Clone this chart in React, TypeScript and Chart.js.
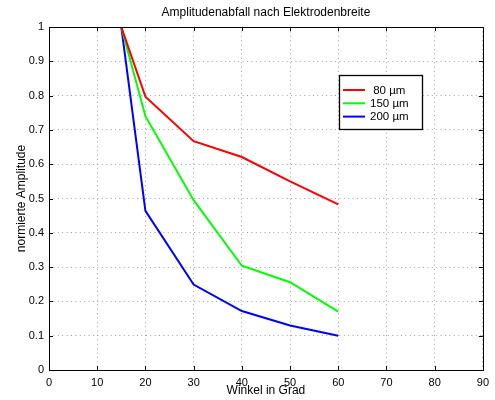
import React, { useEffect, useRef } from 'react';
import { Chart, registerables } from 'chart.js';

Chart.register(...registerables);

const chartTitle = 'Amplitudenabfall nach Elektrodenbreite';
const xAxisTitle = 'Winkel in Grad';
const yAxisTitle = 'normierte Amplitude';

const angles = [15, 20, 30, 40, 50, 60];
const amp80 = [1, 0.797, 0.667, 0.621, 0.55, 0.483];
const amp150 = [1, 0.74, 0.495, 0.304, 0.256, 0.17];
const amp200 = [1, 0.464, 0.249, 0.172, 0.13, 0.1];

const seriesNames = [' 80 µm', '150 µm', '200 µm'];
const seriesColors = ['#ff0000', '#00ff00', '#0000ff'];

const xTickValues = [0, 10, 20, 30, 40, 50, 60, 70, 80, 90];
const yTickLabels = ['0', '0.1', '0.2', '0.3', '0.4', '0.5', '0.6', '0.7', '0.8', '0.9', '1'];

const FAMILY = '"Liberation Sans", Arial, Helvetica, sans-serif';
const TITLE_FONT = '12px ' + FAMILY;
const LEGEND_FONT = '11.5px ' + FAMILY;

const matlabPlugin = {
  id: 'matlabDecor',
  afterDraw(chart: any) {
    const ctx = chart.ctx;
    const a = chart.chartArea;
    const xs = chart.scales.x;
    const ys = chart.scales.y;
    ctx.save();
    // axes box
    ctx.strokeStyle = '#000';
    ctx.lineWidth = 1;
    ctx.setLineDash([]);
    ctx.strokeRect(Math.round(a.left) + 0.5, Math.round(a.top) + 0.5, Math.round(a.right - a.left), Math.round(a.bottom - a.top));
    // inward ticks
    const tl = 4;
    ctx.beginPath();
    xs.ticks.forEach((t: any) => {
      const px = Math.round(xs.getPixelForValue(t.value)) + 0.5;
      ctx.moveTo(px, a.bottom);
      ctx.lineTo(px, a.bottom - tl);
      ctx.moveTo(px, a.top);
      ctx.lineTo(px, a.top + tl);
    });
    ys.ticks.forEach((t: any) => {
      const py = Math.round(ys.getPixelForValue(t.value)) + 0.5;
      ctx.moveTo(a.left, py);
      ctx.lineTo(a.left + tl, py);
      ctx.moveTo(a.right, py);
      ctx.lineTo(a.right - tl, py);
    });
    ctx.stroke();

    // titles
    ctx.fillStyle = '#000';
    ctx.font = TITLE_FONT;
    ctx.textAlign = 'center';
    ctx.textBaseline = 'middle';
    const cx = (a.left + a.right) / 2;
    ctx.fillText(chartTitle, cx, 13);
    ctx.fillText(xAxisTitle, cx, 391);
    ctx.save();
    ctx.translate(22, (a.top + a.bottom) / 2);
    ctx.rotate(-Math.PI / 2);
    ctx.fillText(yAxisTitle, 0, 0);
    ctx.restore();

    // legend
    const lx = 339.5, ly = 75.5, lw = 83, lh = 54;
    ctx.fillStyle = '#fff';
    ctx.fillRect(lx, ly, lw, lh);
    ctx.strokeStyle = '#000';
    ctx.lineWidth = 1.3;
    ctx.strokeRect(lx, ly, lw, lh);
    ctx.textAlign = 'left';
    ctx.font = LEGEND_FONT;
    chart.data.datasets.forEach((ds: any, i: number) => {
      const y = ly + 14.5 + i * 13.3;
      ctx.strokeStyle = ds.borderColor;
      ctx.lineWidth = 2;
      ctx.beginPath();
      ctx.moveTo(343, y);
      ctx.lineTo(365, y);
      ctx.stroke();
      ctx.fillStyle = '#000';
      ctx.fillText(ds.label, 370, y + 0.5);
    });
    ctx.restore();
  },
};

export default function App() {
  const ref = useRef<HTMLCanvasElement | null>(null);
  useEffect(() => {
    if (!ref.current) return;
    const series = [amp80, amp150, amp200];
    const chart = new Chart(ref.current, {
      type: 'line',
      data: {
        datasets: series.map((vals, i) => ({
          label: seriesNames[i],
          data: angles.map((x, j) => ({ x, y: vals[j] })),
          borderColor: seriesColors[i],
          backgroundColor: seriesColors[i],
          borderWidth: 2,
          pointRadius: 0,
          tension: 0,
          fill: false,
        })),
      },
      options: {
        animation: false,
        responsive: false,
        layout: { padding: { top: 27, right: 9, left: 0, bottom: 0 } },
        plugins: {
          legend: { display: false },
          title: { display: false },
          tooltip: { enabled: false },
        },
        scales: {
          x: {
            type: 'linear',
            min: 0,
            max: 90,
            afterBuildTicks: (s: any) => {
              s.ticks = xTickValues.map((v) => ({ value: v }));
            },
            afterFit: (s: any) => {
              s.height = 30;
            },
            ticks: {
              color: '#000',
              font: { family: FAMILY, size: 11 },
              padding: 6,
              maxRotation: 0,
              autoSkip: false,
              callback: (v: any) => String(v),
            },
            grid: { color: '#a0a0a0', lineWidth: 1, drawTicks: false },
            border: { display: false, dash: [1, 3.4] },
          },
          y: {
            type: 'linear',
            min: 0,
            max: 1,
            afterBuildTicks: (s: any) => {
              s.ticks = yTickLabels.map((l) => ({ value: parseFloat(l) }));
            },
            afterFit: (s: any) => {
              s.width = 49;
            },
            ticks: {
              color: '#000',
              font: { family: FAMILY, size: 11 },
              padding: 5,
              autoSkip: false,
              callback: (v: any, i: number) => yTickLabels[i],
            },
            grid: { color: '#a0a0a0', lineWidth: 1, drawTicks: false },
            border: { display: false, dash: [1, 3.4] },
          },
        },
      },
      plugins: [matlabPlugin],
    } as any);
    return () => chart.destroy();
  }, []);
  return (
    <div style={{ position: 'fixed', left: 0, top: 0, width: 495, height: 400, background: '#fff' }}>
      <canvas ref={ref} width={495} height={400} />
    </div>
  );
}
